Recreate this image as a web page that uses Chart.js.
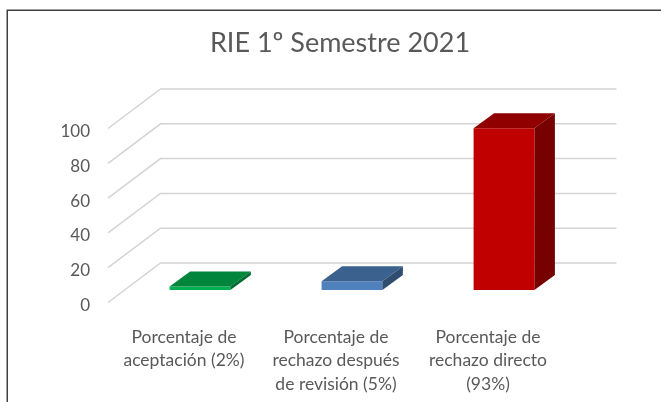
<!DOCTYPE html>
<html>
<head>
<meta charset="utf-8">
<script src="https://cdn.jsdelivr.net/npm/chart.js@4"></script>
<style>
  html, body { margin: 0; padding: 0; background: #fff; }
  #wrap { position: relative; width: 661px; height: 402px; }
</style>
</head>
<body>
<div id="wrap"><canvas id="rieChart" width="661" height="402"></canvas></div>
<script>
const categorias = [
    ['Porcentaje de', 'aceptación (2%)'],
    ['Porcentaje de', 'rechazo después', 'de revisión (5%)'],
    ['Porcentaje de', 'rechazo directo', '(93%)']
];
const valores = [2, 5, 93];
const coloresFrente = ['#00b050', '#4f81bd', '#c00000'];
const coloresArriba = ['#00853c', '#3b618e', '#900000'];
const coloresLado = ['#006a30', '#2f4d71', '#770000'];

// 3D look: the wall sits behind the front plane, the bars half way in
const fondo = { x: 52.5, y: -39.5 };
const barra = { x: 16, y: -12.5 };
const prof = { x: 20.5, y: -15 };

const marco = {
    id: 'marco',
    beforeDraw(chart) {
        const ctx = chart.ctx;
        ctx.save();
        ctx.strokeStyle = '#404040';
        ctx.lineWidth = 1.5;
        ctx.strokeRect(7.25, 10.25, 660, 400);
        ctx.restore();
    }
};

const pared = {
    id: 'pared',
    beforeDatasetsDraw(chart) {
        const ctx = chart.ctx;
        const y = chart.scales.y;
        const area = chart.chartArea;
        ctx.save();
        ctx.strokeStyle = '#d4d4d4';
        ctx.lineWidth = 1.5;
        y.ticks.forEach(function (t) {
            const py = y.getPixelForValue(t.value);
            ctx.beginPath();
            ctx.moveTo(area.left, py);
            ctx.lineTo(area.left + fondo.x, py + fondo.y);
            ctx.lineTo(area.right + fondo.x, py + fondo.y);
            ctx.stroke();
        });
        ctx.restore();
        // bars get moved in from the front plane
        ctx.save();
        ctx.translate(barra.x, barra.y);
    },
    afterDatasetsDraw(chart) {
        const ctx = chart.ctx;
        chart.getDatasetMeta(0).data.forEach(function (bar, i) {
            const izq = bar.x - bar.width / 2;
            const der = bar.x + bar.width / 2;
            ctx.fillStyle = coloresArriba[i];
            ctx.beginPath();
            ctx.moveTo(izq, bar.y);
            ctx.lineTo(izq + prof.x, bar.y + prof.y);
            ctx.lineTo(der + prof.x, bar.y + prof.y);
            ctx.lineTo(der, bar.y);
            ctx.closePath();
            ctx.fill();
            ctx.fillStyle = coloresLado[i];
            ctx.beginPath();
            ctx.moveTo(der, bar.y);
            ctx.lineTo(der + prof.x, bar.y + prof.y);
            ctx.lineTo(der + prof.x, bar.base + prof.y);
            ctx.lineTo(der, bar.base);
            ctx.closePath();
            ctx.fill();
        });
        ctx.restore();
    }
};

new Chart(document.getElementById('rieChart'), {
    type: 'bar',
    data: {
        labels: categorias,
        datasets: [{
            data: valores,
            backgroundColor: coloresFrente,
            barPercentage: 0.4,
            categoryPercentage: 1,
            clip: false
        }]
    },
    plugins: [marco, pared],
    options: {
        responsive: false,
        animation: false,
        layout: {
            padding: { top: 0, right: 0, bottom: 0, left: 19 }
        },
        plugins: {
            legend: { display: false },
            tooltip: { enabled: false },
            title: {
                display: true,
                text: 'RIE 1º Semestre 2021',
                color: '#595959',
                font: { family: 'Lato', size: 27, weight: 'normal' },
                padding: { top: 27, bottom: 69.1 }
            }
        },
        scales: {
            x: {
                grid: { display: false },
                border: { display: false },
                ticks: {
                    color: '#595959',
                    padding: 15,
                    maxRotation: 0,
                    autoSkip: false,
                    font: { family: 'Lato', size: 17.5, lineHeight: 1.34 }
                },
                afterFit(scale) { scale.height = 99.5; }
            },
            y: {
                min: 0,
                max: 100,
                grid: { display: false },
                border: { display: false },
                ticks: {
                    color: '#595959',
                    stepSize: 20,
                    padding: 10,
                    labelOffset: 3,
                    font: { family: 'Lato', size: 17 }
                },
                afterFit(scale) { scale.width = 89; }
            },
            // empty axis, only keeps the room right of the plot
            derecha: {
                position: 'right',
                grid: { display: false },
                border: { display: false },
                ticks: { display: false },
                afterFit(scale) { scale.width = 97; }
            }
        }
    }
});
</script>
</body>
</html>
